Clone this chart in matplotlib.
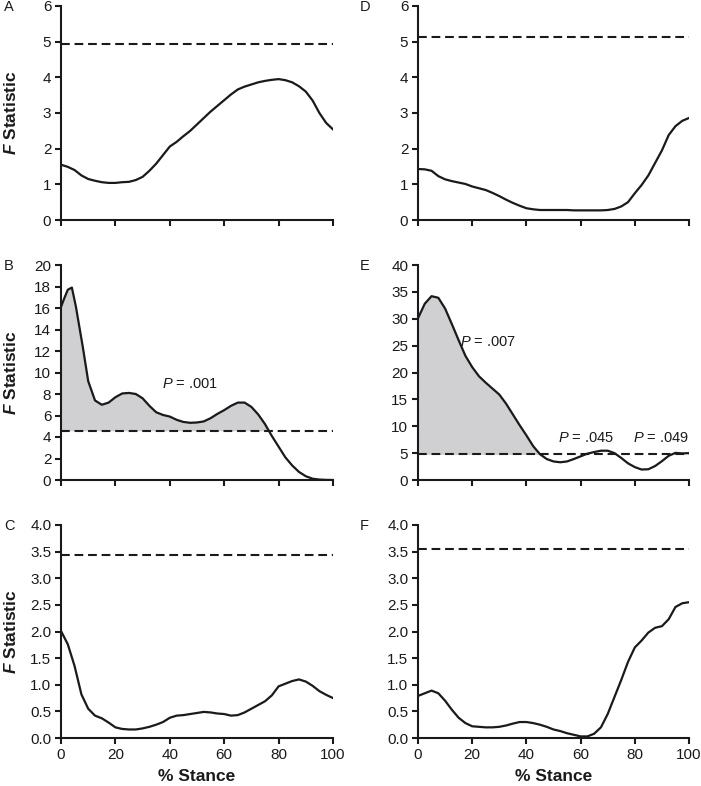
import matplotlib
matplotlib.use("Agg")
import matplotlib.pyplot as plt
import numpy as np

plt.rcParams["font.family"] = ["Liberation Sans", "DejaVu Sans"]
plt.rcParams["mathtext.fontset"] = "custom"
plt.rcParams["mathtext.rm"] = "Liberation Sans"
plt.rcParams["mathtext.it"] = "Liberation Sans:italic"
plt.rcParams["mathtext.bf"] = "Liberation Sans:bold"
plt.rcParams["mathtext.bfit"] = "Liberation Sans:italic:bold"

# ---- data --------------------------------------------------------------------
x_std = [0, 2.5, 5, 7.5, 10, 12.5, 15, 17.5, 20, 22.5, 25, 27.5, 30, 32.5, 35, 37.5,
         40, 42.5, 45, 47.5, 50, 52.5, 55, 57.5, 60, 62.5, 65, 67.5, 70, 72.5, 75,
         77.5, 80, 82.5, 85, 87.5, 90, 92.5, 95, 97.5, 100]

f_a = [1.55, 1.49, 1.40, 1.25, 1.15, 1.10, 1.06, 1.04, 1.04, 1.06, 1.07, 1.12, 1.21,
       1.38, 1.58, 1.82, 2.06, 2.19, 2.35, 2.50, 2.68, 2.86, 3.04, 3.20, 3.36, 3.52,
       3.66, 3.74, 3.80, 3.86, 3.90, 3.93, 3.95, 3.92, 3.86, 3.75, 3.60, 3.35, 3.00,
       2.72, 2.54]

f_d = [1.43, 1.42, 1.38, 1.23, 1.14, 1.09, 1.05, 1.01, 0.94, 0.89, 0.84, 0.76, 0.67,
       0.57, 0.48, 0.40, 0.33, 0.30, 0.28, 0.28, 0.28, 0.28, 0.28, 0.27, 0.27, 0.27,
       0.27, 0.27, 0.28, 0.31, 0.38, 0.50, 0.75, 0.98, 1.25, 1.60, 1.95, 2.38, 2.63,
       2.78, 2.86]

x_b = [0, 1.2, 2.5, 4, 5.5, 8, 10, 12.5, 15, 17.5, 20, 22.5, 25, 27.5, 30, 32.5, 35,
       37.5, 40, 42.5, 45, 47.5, 50, 52.5, 55, 57.5, 60, 62.5, 65, 67.5, 70, 72.5, 75,
       77.5, 80, 82.5, 85, 87.5, 90, 92.5, 95, 97.5, 100]
f_b = [16.1, 16.9, 17.7, 17.9, 16.1, 12.4, 9.2, 7.4, 7.0, 7.2, 7.7, 8.05, 8.1, 8.0,
       7.6, 6.9, 6.3, 6.05, 5.9, 5.6, 5.4, 5.32, 5.35, 5.45, 5.75, 6.15, 6.5, 6.9, 7.2,
       7.2, 6.8, 6.1, 5.2, 4.1, 3.1, 2.1, 1.35, 0.75, 0.35, 0.12, 0.04, 0.01, 0.0]

f_e = [30.1, 32.8, 34.2, 33.9, 31.9, 29.0, 26.0, 23.1, 21.0, 19.3, 18.1, 17.0, 15.9,
       14.2, 12.2, 10.2, 8.3, 6.3, 4.8, 3.9, 3.45, 3.3, 3.45, 3.9, 4.4, 4.9, 5.2, 5.45,
       5.45, 5.0, 4.1, 3.1, 2.4, 1.95, 2.0, 2.6, 3.5, 4.5, 5.05, 4.95, 5.0]

f_c = [2.01, 1.76, 1.35, 0.82, 0.55, 0.42, 0.37, 0.29, 0.20, 0.17, 0.16, 0.16, 0.18,
       0.21, 0.25, 0.30, 0.38, 0.42, 0.43, 0.45, 0.47, 0.49, 0.48, 0.46, 0.45, 0.42,
       0.43, 0.48, 0.55, 0.62, 0.69, 0.80, 0.97, 1.02, 1.07, 1.10, 1.06, 0.98, 0.88,
       0.81, 0.75]

f_f = [0.79, 0.84, 0.89, 0.84, 0.70, 0.53, 0.38, 0.28, 0.22, 0.21, 0.20, 0.20, 0.21,
       0.235, 0.27, 0.30, 0.30, 0.28, 0.25, 0.21, 0.16, 0.13, 0.09, 0.06, 0.03, 0.03,
       0.08, 0.20, 0.45, 0.77, 1.09, 1.43, 1.70, 1.83, 1.98, 2.07, 2.10, 2.23, 2.46,
       2.53, 2.55]

# critical F (dashed line) per panel
crit = {"A": 4.93, "B": 4.58, "C": 3.43, "D": 5.14, "E": 4.75, "F": 3.54}

# ---- layout ------------------------------------------------------------------
W, H = 701, 786
fig = plt.figure(figsize=(W / 100, H / 100), dpi=100)


def box(x0, top, x1, bottom):
    return [x0 / W, 1 - bottom / H, (x1 - x0) / W, (bottom - top) / H]


cols = [(61, 333), (418, 689)]
rows = [(6, 220), (265, 480), (525, 738)]

panels = [
    ("A", 0, 0, x_std, f_a, (0, 6), np.arange(0, 7, 1), "{:.0f}", None),
    ("B", 1, 0, x_b, f_b, (0, 20), np.arange(0, 21, 2), "{:.0f}", 100),
    ("C", 2, 0, x_std, f_c, (0, 4), np.arange(0, 4.01, 0.5), "{:.1f}", None),
    ("D", 0, 1, x_std, f_d, (0, 6), np.arange(0, 7, 1), "{:.0f}", None),
    ("E", 1, 1, x_std, f_e, (0, 40), np.arange(0, 41, 5), "{:.0f}", 50),
    ("F", 2, 1, x_std, f_f, (0, 4), np.arange(0, 4.01, 0.5), "{:.1f}", None),
]

ink = "#1a1a1a"
axes = {}
for key, r, c, xs, ys, ylim, yt, fmt, fill_to in panels:
    (x0, x1), (t, b) = cols[c], rows[r]
    ax = fig.add_axes(box(x0, t, x1, b))
    axes[key] = ax
    xs = np.array(xs)
    ys = np.array(ys)
    thr = crit[key]
    if fill_to is not None:                         # shade suprathreshold cluster
        where = (ys >= thr) & (xs <= fill_to)
        ax.fill_between(xs, thr, ys, where=where, interpolate=True,
                        color="#d0d0d2", lw=0, zorder=1)
    ax.plot(xs, ys, color=ink, lw=1.6, zorder=3, solid_joinstyle="round")
    ax.plot([0, 100], [thr, thr], color=ink, lw=1.5, ls=(0, (4.2, 2.3)), zorder=2)

    ax.set_xlim(0, 100)
    ax.set_ylim(*ylim)
    ax.set_xticks(range(0, 101, 20))
    ax.set_yticks(yt)
    ax.set_yticklabels([fmt.format(v) for v in yt])
    for s in ("top", "right"):
        ax.spines[s].set_visible(False)
    for s in ("left", "bottom"):
        ax.spines[s].set_linewidth(1.5)
        ax.spines[s].set_color(ink)
    ax.tick_params(direction="out", length=4, width=1.5, color=ink,
                   labelsize=11, labelcolor=ink, pad=3)
    ax.margins(0)
    if r < 2:
        ax.tick_params(axis="x", labelbottom=False)
    else:
        ax.set_xlabel("% Stance", fontsize=12.5, fontweight="bold", color=ink,
                      labelpad=5)
    if c == 0:
        ax.set_ylabel(r"$\mathbfit{F}$ Statistic", fontsize=12.5,
                      fontweight="bold", color=ink)
        ax.yaxis.set_label_coords(-0.155, 0.5)
    # panel letter
    fig.text((4 if c == 0 else 360) / W, 1 - (t + 1) / H, key, fontsize=10.5,
             color=ink, ha="left", va="center")

# p-value annotations
axes["B"].text(47.5, 8.9, "$P$ = .001", fontsize=10.5, color=ink,
               ha="center", va="center")
axes["E"].text(15.5, 25.7, "$P$ = .007", fontsize=10.5, color=ink,
               ha="left", va="center")
axes["E"].text(51.7, 7.8, "$P$ = .045", fontsize=10.5, color=ink,
               ha="left", va="center")
axes["E"].text(79.3, 7.8, "$P$ = .049", fontsize=10.5, color=ink,
               ha="left", va="center")

fig.savefig("out.png", dpi=100)
